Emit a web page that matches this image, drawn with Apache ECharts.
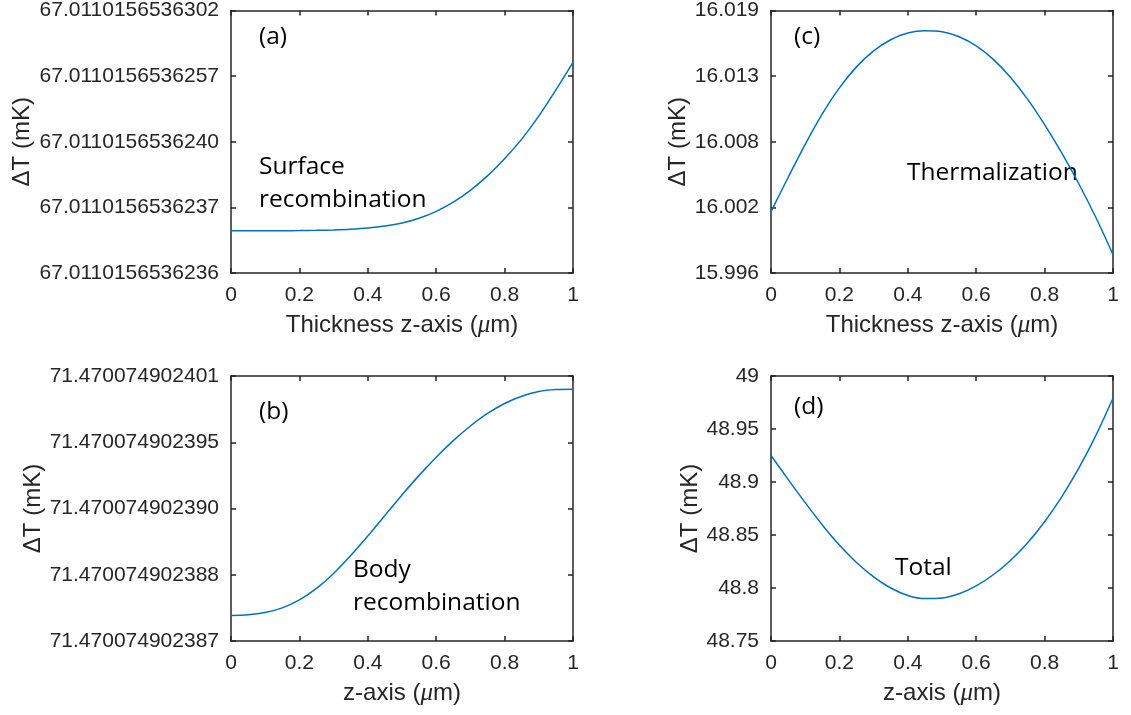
<!DOCTYPE html>
<html>
<head>
<meta charset="utf-8">
<script src="https://cdn.jsdelivr.net/npm/echarts@6/dist/echarts.min.js"></script>
<style>
html,body{margin:0;padding:0;background:#fff;}
#chart{width:1131px;height:715px;}
</style>
</head>
<body>
<div id="chart"></div>
<script>
// x positions (µm)
const zPositions = [0,0.05,0.1,0.15,0.2,0.25,0.3,0.35,0.4,0.45,0.5,0.55,0.6,0.65,0.7,0.75,0.8,0.85,0.9,0.95,1];
const xTickLabels = ["0","0.2","0.4","0.6","0.8","1"];

// (a) Surface recombination: position along the (non-uniformly labelled) y-axis, in tick steps
const surfaceLabels = ["67.0110156536236","67.0110156536237","67.0110156536240","67.0110156536257","67.0110156536302"];
const surfacePos = [0.643,0.643,0.643,0.644,0.646,0.650,0.657,0.668,0.686,0.716,0.762,0.835,0.94,1.08,1.26,1.48,1.74,2.04,2.39,2.79,3.21];

// (b) Body recombination: position along the y-axis, in tick steps
const bodyLabels = ["71.470074902387","71.470074902388","71.470074902390","71.470074902395","71.470074902401"];
const bodyPos = [0.385,0.395,0.43,0.50,0.62,0.795,1.02,1.29,1.585,1.895,2.205,2.50,2.775,3.025,3.245,3.435,3.585,3.695,3.765,3.795,3.80];

// (c) Thermalization, ΔT in mK
const thermalLabels = ["15.996","16.002","16.008","16.013","16.019"];
const thermalMin = 15.996, thermalMax = 16.019;
const thermalValues = [16.00138,16.00437,16.00727,16.00994,16.01222,16.01406,16.01546,16.01644,16.01702,16.01722,16.01713,16.01670,16.01590,16.01472,16.01316,16.01124,16.00900,16.00652,16.00382,16.00086,15.99761];

// (d) Total, ΔT in mK
const totalValues = [48.925,48.9025,48.8805,48.8595,48.8405,48.824,48.8105,48.800,48.793,48.790,48.7905,48.7945,48.802,48.8125,48.826,48.8425,48.8625,48.886,48.913,48.944,48.979];

const AX = '#262626';
const LINE = '#0072BD';
const TICKFONT = 'Liberation Sans';

const grids = [
  {left:231, top:7,   width:342, height:266},
  {left:231, top:376, width:342, height:265},
  {left:771, top:7,   width:342, height:266},
  {left:771, top:376, width:342, height:265}
];

const nameRich = {mu: {fontFamily: 'Liberation Serif', fontStyle: 'italic', fontSize: 25, color: AX}};
const xAxes = [], yAxes = [];
function axisBase(gi, pos) {
  return {
    gridIndex: gi, type: 'value', position: pos,
    axisLine: {show: true, onZero: false, lineStyle: {color: AX, width: 1.5}},
    axisTick: {show: true, inside: true, length: 5, lineStyle: {color: AX, width: 1.5}},
    splitLine: {show: false},
  };
}
function addPanel(gi, xName, yCfg, yNameGap) {
  const xb = axisBase(gi, 'bottom');
  Object.assign(xb, {min: 0, max: 1, interval: 0.2,
    axisLabel: {color: AX, fontSize: 21, fontFamily: TICKFONT, margin: 12,
      formatter: v => xTickLabels[Math.round(v / 0.2)]},
    name: xName, nameLocation: 'middle', nameGap: 40,
    nameTextStyle: {color: AX, fontSize: 24, fontFamily: TICKFONT, rich: nameRich}});
  const xt = axisBase(gi, 'top');
  Object.assign(xt, {min: 0, max: 1, interval: 0.2, axisLabel: {show: false}});
  const yl = axisBase(gi, 'left');
  Object.assign(yl, {min: yCfg.min, max: yCfg.max, interval: yCfg.interval,
    axisLabel: {color: AX, fontSize: 21, fontFamily: TICKFONT, margin: 12, formatter: yCfg.fmt},
    name: 'ΔT (mK)', nameLocation: 'middle', nameGap: yNameGap, nameRotate: 90,
    nameTextStyle: {color: AX, fontSize: 24, fontFamily: TICKFONT}});
  const yr = axisBase(gi, 'right');
  Object.assign(yr, {min: yCfg.min, max: yCfg.max, interval: yCfg.interval, axisLabel: {show: false}});
  xAxes.push(xb, xt); yAxes.push(yl, yr);
}

addPanel(0, 'Thickness z-axis ({mu|\u03bc}m)', {min: 0, max: 4, interval: 1, fmt: v => surfaceLabels[Math.round(v)]}, 197);
addPanel(1, 'z-axis ({mu|\u03bc}m)', {min: 0, max: 4, interval: 1, fmt: v => bodyLabels[Math.round(v)]}, 185);
addPanel(2, 'Thickness z-axis ({mu|\u03bc}m)', {min: 0, max: 4, interval: 1, fmt: v => thermalLabels[Math.round(v)]}, 80);
addPanel(3, 'z-axis ({mu|\u03bc}m)', {min: 48.75, max: 49, interval: 0.05, fmt: v => String(+v.toFixed(2))}, 68);

const thermalStep = (thermalMax - thermalMin) / (thermalLabels.length - 1);
const seriesData = [
  surfacePos.map((v, i) => [zPositions[i], v]),
  bodyPos.map((v, i) => [zPositions[i], v]),
  thermalValues.map((v, i) => [zPositions[i], (v - thermalMin) / thermalStep]),
  totalValues.map((v, i) => [zPositions[i], v])
];
const series = seriesData.map((d, gi) => ({
  type: 'line', xAxisIndex: gi * 2, yAxisIndex: gi * 2, data: d,
  showSymbol: false, smooth: 0.3, silent: true,
  lineStyle: {color: LINE, width: 1.5}
}));

const annFont = '24.5px "Open Sans"';
function ann(x, y, text) {
  return {type: 'text', x: x, y: y, silent: true,
    style: {text: text, font: annFont, fill: '#000', verticalAlign: 'middle', align: 'left'}};
}
const graphics = [
  ann(259, 37, '(a)'),
  ann(259, 167, 'Surface'),
  ann(259, 200, 'recombination'),
  ann(259, 412, '(b)'),
  ann(353, 570, 'Body'),
  ann(353, 603, 'recombination'),
  ann(794, 37, '(c)'),
  ann(907, 173, 'Thermalization'),
  ann(794, 407, '(d)'),
  ann(895, 568, 'Total')
];

const chart = echarts.init(document.getElementById('chart'), null, {renderer: 'canvas'});
chart.setOption({
  animation: false,
  backgroundColor: '#fff',
  grid: grids,
  xAxis: xAxes,
  yAxis: yAxes,
  series: series,
  graphic: graphics
});
</script>
</body>
</html>
